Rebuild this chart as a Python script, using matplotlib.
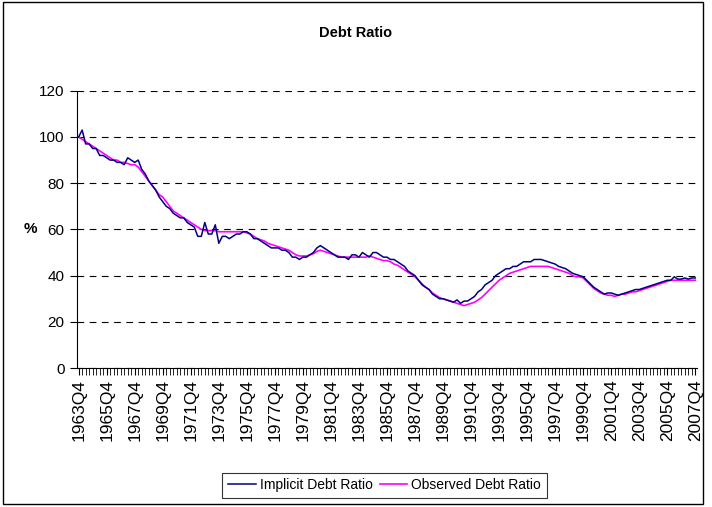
import matplotlib
matplotlib.use("Agg")
import matplotlib.pyplot as plt
from matplotlib.patches import Rectangle
import numpy as np

plt.rcParams['font.family'] = ['Liberation Sans', 'DejaVu Sans']

# quarterly values, 1963Q4 .. 2007Q4 (one row per year, Q1..Q4)
implicit = [
    100,
    103, 97, 97, 95,
    95, 92, 92, 91,
    90, 90, 89, 89,
    88, 91, 90, 89,
    90, 86, 84, 81,
    79, 77, 74, 72,
    70, 69, 67, 66,
    65, 65, 63, 62,
    61, 57, 57, 63,
    58, 58, 62, 54,
    57, 57, 56, 57,
    58, 58, 59, 59,
    58, 56, 56, 55,
    54, 53, 52, 52,
    52, 51, 51, 50,
    48, 48, 47, 48,
    48, 49, 50, 52,
    53, 52, 51, 50,
    49, 48, 48, 48,
    47, 49, 49, 48,
    50, 49, 48, 50,
    50, 49, 48, 48,
    47, 47, 46, 45,
    44, 42, 41, 40,
    38, 36, 35, 34,
    32, 31, 30, 30,
    29.5, 29, 28.5, 29.5,
    28, 29, 29, 30,
    31, 33, 34, 36,
    37, 38, 40, 41,
    42, 43, 43, 44,
    44, 45, 46, 46,
    46, 47, 47, 47,
    46.5, 46, 45.5, 45,
    44, 43.5, 43, 42,
    41, 40.5, 40, 39.5,
    38, 36.5, 35, 34,
    33, 32, 32.5, 32.5,
    32, 31.5, 32, 32.5,
    33, 33.5, 34, 34,
    34.5, 35, 35.5, 36,
    36.5, 37, 37.5, 38,
    38, 39.5, 38.5, 38.5,
    39, 38.5, 39, 39,
]

observed = [
    100,
    99, 98, 97, 96,
    95, 94, 93, 92,
    91, 90, 90, 89,
    89, 88.5, 88, 88,
    87, 85, 83, 81,
    79, 77, 75, 74,
    72, 70, 68, 67,
    66, 65, 64, 63,
    62, 61, 60, 59.5,
    59.5, 59.5, 59.5, 59,
    59, 59, 59, 59,
    59, 59, 59, 58.5,
    58, 57, 56, 55.5,
    55, 54, 53.5, 53,
    52.5, 52, 51.5, 51,
    50, 49, 48.5, 48.5,
    48.5, 49, 49.5, 50.5,
    51, 50.5, 50, 49.5,
    49, 48.5, 48, 48,
    48, 48, 48, 48,
    48, 48, 48.5, 48,
    47.5, 47, 46.5, 46.5,
    46, 45, 44.5, 43.5,
    42.5, 41.5, 40.5, 39.5,
    38, 36.5, 35, 34,
    32.5, 31.5, 30.5, 30,
    29.5, 29, 28.5, 28,
    27.5, 27, 27.5, 28,
    28.5, 29.5, 30.5, 32,
    33.5, 35, 36.5, 38,
    39, 40, 41, 41.5,
    42, 42.5, 43, 43.5,
    44, 44, 44, 44,
    44, 44, 43.5, 43,
    42.5, 42, 41.5, 41,
    40, 39.5, 39.5, 39,
    37.5, 36, 34.5, 33.5,
    32.5, 32, 31.5, 31.5,
    31, 31.5, 32, 32,
    32.5, 33, 33, 33.5,
    34, 34.5, 35, 35.5,
    36, 36.5, 37, 37.5,
    38, 38, 38, 38,
    38, 38, 38, 38,
]

quarters = ["1963Q4"] + [f"{y}Q{q}" for y in range(1964, 2008) for q in range(1, 5)]
yticks = [0, 20, 40, 60, 80, 100, 120]

x = np.arange(len(quarters))

fig = plt.figure(figsize=(7.12, 5.07), dpi=100)
ax = fig.add_axes([0.108, 0.274, 0.871, 0.547])

ax.plot(x, observed, color="#FF00FF", lw=1.2, label="Observed Debt Ratio", zorder=3)
ax.plot(x, implicit, color="#000080", lw=1.1, label="Implicit Debt Ratio", zorder=4)

ax.set_xlim(-0.5, len(quarters) - 0.5)
ax.set_ylim(0, 120)
ax.set_yticks(yticks)
ax.yaxis.grid(True, color="black", ls=(0, (6, 5)), lw=0.8)
ax.set_axisbelow(True)
for s in ["top", "right"]:
    ax.spines[s].set_visible(False)
ax.tick_params(axis="y", direction="out", length=5, labelsize=11, pad=4)

ax.set_xticks(x, minor=True)
ax.set_xticks(x[::8])
ax.set_xticklabels(quarters[::8], rotation=90, fontsize=12.5)
ax.tick_params(axis="x", which="both", direction="out", length=5, pad=3)

ax.set_ylabel("%", rotation=0, fontsize=11, fontweight="bold", labelpad=6, va="center")
fig.text(0.499, 0.935, "Debt Ratio", ha="center", va="center", fontsize=10.5, fontweight="bold")

h, l = ax.get_legend_handles_labels()
leg = fig.legend(h[::-1], l[::-1], loc="center", bbox_to_anchor=(0.54, 0.043), ncol=2,
                 frameon=True, fancybox=False, handlelength=2.0,
                 columnspacing=0.5, handletextpad=0.3, borderpad=0.4,
                 prop={"family": ["Liberation Sans Narrow", "Liberation Sans"], "size": 10})
leg.get_frame().set_edgecolor("black")
leg.get_frame().set_linewidth(0.8)

fig.patches.append(Rectangle((0.004, 0.006), 0.984, 0.99, transform=fig.transFigure,
                             fill=False, edgecolor="black", lw=1.0))

fig.savefig("out.png", dpi=100)
